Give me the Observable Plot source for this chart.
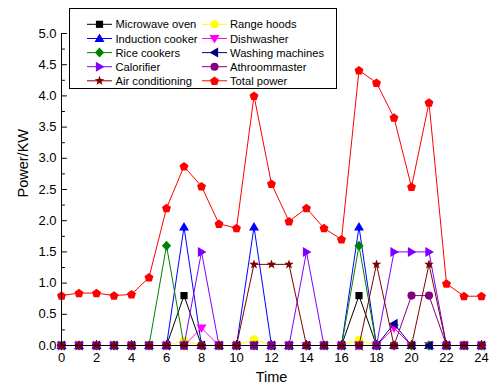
<!DOCTYPE html>
<html><head><meta charset="utf-8">
<script src="https://cdn.jsdelivr.net/npm/d3@7"></script>
<script src="https://cdn.jsdelivr.net/npm/@observablehq/plot@0.6"></script>
<style>
body{margin:0;background:#fff;}
svg{font-family:"Liberation Sans",Arial,sans-serif;}
</style>
</head><body><div id="chart"></div>
<script>
const hours = [0,1,2,3,4,5,6,7,8,9,10,11,12,13,14,15,16,17,18,19,20,21,22,23,24];
const seriesNames = ["Microwave oven","Range hoods","Induction cooker","Dishwasher","Rice cookers","Washing machines","Calorifier","Athroommaster","Air conditioning","Total power"];
const seriesColors = ["#000000","#FFFF00","#0000FF","#FF00FF","#008000","#000080","#8000FF","#800080","#800000","#FF0000"];
const microwave  = [0,0,0,0,0,0,0,0.8,0,0,0,0,0,0,0,0,0,0.8,0,0,0,0,0,0,0];
const rangeHoods = [0,0,0,0,0,0,0,0.08,0,0,0,0.1,0,0,0,0,0,0.09,0,0,0,0,0,0,0];
const induction  = [0,0,0,0,0,0,0,1.9,0,0,0,1.9,0,0,0,0,0,1.9,0,0,0,0,0,0,0];
const dishwasher = [0,0,0,0,0,0,0,0,0.28,0,0,0,0,0,0,0,0,0,0,0.28,0,0,0,0,0];
const riceCooker = [0,0,0,0,0,0,1.6,0,0,0,0,0,0,0,0,0,0,1.6,0,0,0,0,0,0,0];
const washing    = [0,0,0,0,0,0,0,0,0,0,0,0,0,0,0,0,0,0,0,0.35,0,0,0,0,0];
const calorifier = [0,0,0,0,0,0,0,0,1.5,0,0,0,0,0,1.5,0,0,0,0,1.5,1.5,1.5,0,0,0];
const athroom    = [0,0,0,0,0,0,0,0,0,0,0,0,0,0,0,0,0,0,0,0,0.8,0.8,0,0,0];
const airCond    = [0,0,0,0,0,0,0,0,0,0,0,1.3,1.3,1.3,0,0,0,0,1.3,0,0,1.3,0,0,0];
const totalPower = [0.8,0.84,0.84,0.8,0.82,1.09,2.2,2.87,2.55,1.95,1.88,4.0,2.59,1.99,2.2,1.88,1.7,4.41,4.21,3.65,2.54,3.89,0.99,0.79,0.79];
const seriesValues = [microwave,rangeHoods,induction,dishwasher,riceCooker,washing,calorifier,athroom,airCond,totalPower];
const yTicks = [0,0.5,1,1.5,2,2.5,3,3.5,4,4.5,5];
const yMinorTicks = [0.25,0.75,1.25,1.75,2.25,2.75,3.25,3.75,4.25,4.75];
const xTicks = [0,2,4,6,8,10,12,14,16,18,20,22,24];
const xMinorTicks = [1,3,5,7,9,11,13,15,17,19,21,23];
const xLabel = "Time";
const yLabel = "Power/KW";

function poly(pts){
  return {draw(ctx, size){
    const k = Math.sqrt(size/Math.PI)/4.5;
    ctx.moveTo(pts[0][0]*k, pts[0][1]*k);
    for (let i=1;i<pts.length;i++) ctx.lineTo(pts[i][0]*k, pts[i][1]*k);
    ctx.closePath();
  }};
}
function star(){
  const p=[]; for(let i=0;i<10;i++){const a=-Math.PI/2+i*Math.PI/5; const r=i%2?2.1:5; p.push([r*Math.cos(a), r*Math.sin(a)]);} return poly(p);
}
function pentagon(){
  const p=[]; for(let i=0;i<5;i++){const a=-Math.PI/2+i*2*Math.PI/5; p.push([4.7*Math.cos(a),4.7*Math.sin(a)+0.3]);} return poly(p);
}
const circleSym = {draw(ctx,size){const r=Math.sqrt(size/Math.PI)*0.9; ctx.moveTo(r,0); ctx.arc(0,0,r,0,2*Math.PI); ctx.closePath();}};
const seriesSymbols = [
  poly([[-3.6,-3.6],[3.6,-3.6],[3.6,3.6],[-3.6,3.6]]),
  circleSym,
  poly([[0,-5],[5,3.6],[-5,3.6]]),
  poly([[0,5],[5,-3.6],[-5,-3.6]]),
  poly([[0,-5],[4.6,0],[0,5],[-4.6,0]]),
  poly([[-5,0],[3.6,-5],[3.6,5]]),
  poly([[5,0],[-3.6,-5],[-3.6,5]]),
  circleSym,
  star(),
  pentagon()
];
const tickShape = {draw(ctx, l){ ctx.moveTo(0,0); ctx.lineTo(0,-l); }};

const marks = [];
seriesNames.forEach((name, s) => {
  const data = hours.map((h,i) => ({hour:h, value:seriesValues[s][i], series:name}));
  marks.push(Plot.line(data, {x:"hour", y:"value", stroke:seriesColors[s], strokeWidth:1}));
  marks.push(Plot.dot(data, {x:"hour", y:"value", symbol:seriesSymbols[s], r:4.5, fill:seriesColors[s], stroke:"none"}));
});

const svg = Plot.plot({
  width: 489, height: 389,
  marginLeft: 61, marginRight: 8, marginTop: 33, marginBottom: 44,
  x: {domain:[0,24]},
  y: {domain:[0,5]},
  style: {fontFamily:'"Liberation Sans",Arial,sans-serif', color:"#000", background:"#fff"},
  marks: [
    Plot.axisY({ticks:yTicks, tickFormat:d3.format(".1f"), tickSize:0, tickPadding:5, fontSize:13, label:null}),
    Plot.axisX({ticks:xTicks, tickFormat:d => String(d), tickSize:0, tickPadding:7, fontSize:13, label:null}),
    Plot.vector(yTicks, {y:d=>d, frameAnchor:"left", length:5, rotate:90, anchor:"start", shape:tickShape, stroke:"#000", strokeWidth:1}),
    Plot.vector(yMinorTicks, {y:d=>d, frameAnchor:"left", length:3, rotate:90, anchor:"start", shape:tickShape, stroke:"#000", strokeWidth:1}),
    Plot.vector(xTicks, {x:d=>d, frameAnchor:"bottom", length:5, rotate:0, anchor:"start", shape:tickShape, stroke:"#000", strokeWidth:1}),
    Plot.vector(xMinorTicks, {x:d=>d, frameAnchor:"bottom", length:3, rotate:0, anchor:"start", shape:tickShape, stroke:"#000", strokeWidth:1}),
    ...marks,
    Plot.ruleX([0], {stroke:"#000", strokeWidth:1}),
    Plot.ruleY([0], {stroke:"#000", strokeWidth:1}),
    Plot.text([xLabel], {frameAnchor:"bottom", dy:36, fontSize:14.5, fill:"#000"}),
    Plot.text([yLabel], {frameAnchor:"left", dx:-38, dy:8, rotate:-90, fontSize:14.5, fill:"#000"})
  ]
});
document.getElementById("chart").appendChild(svg);

// legend
const lg = d3.select(svg).append("g").attr("font-size", 11.2).attr("text-anchor","start").attr("font-family",'"Liberation Sans",Arial,sans-serif');
lg.append("rect").attr("x",69.5).attr("y",8.5).attr("width",267).attr("height",80).attr("fill","#fff").attr("stroke","#000").attr("stroke-width",1);
const rowY = [24.3,38.5,52.6,66.7,80.8];
seriesNames.forEach((name, s) => {
  const col = s % 2, row = Math.floor(s/2);
  const x0 = col ? 202 : 87, x1 = col ? 227 : 112, xm = (x0+x1)/2, y = rowY[row];
  const tx = col ? 230 : 115.5;
  lg.append("line").attr("x1",x0).attr("x2",x1).attr("y1",y).attr("y2",y).attr("stroke",seriesColors[s]).attr("stroke-width",1);
  lg.append("path").attr("transform",`translate(${xm},${y})`).attr("d", d3.symbol().type(seriesSymbols[s]).size(4.5*4.5*Math.PI)()).attr("fill",seriesColors[s]);
  lg.append("text").attr("x",tx).attr("y",y).attr("dy","0.36em").attr("text-anchor","start").attr("fill","#000").text(name);
});
</script>
</body></html>
